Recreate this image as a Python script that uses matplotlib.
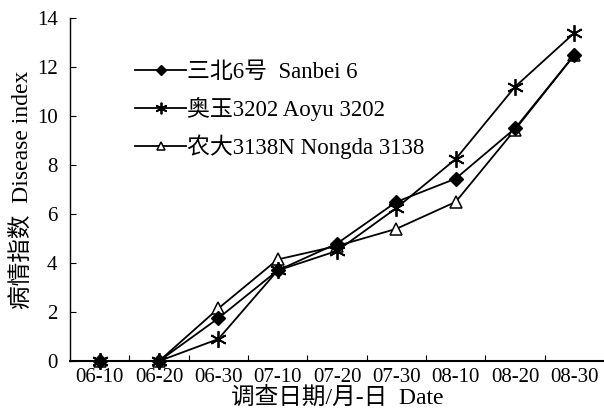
import matplotlib
matplotlib.use("Agg")
import matplotlib.pyplot as plt
import numpy as np

plt.rcParams['font.family'] = ['Liberation Serif', 'Noto Sans CJK SC']

dates = ['06-10', '06-20', '06-30', '07-10', '07-20', '07-30', '08-10', '08-20', '08-30']
sanbei = [0, 0, 1.75, 3.7, 4.8, 6.5, 7.45, 9.5, 12.5]
aoyu = [0, 0, 0.9, 3.7, 4.5, 6.25, 8.25, 11.2, 13.4]
nongda = [0, 0, 2.15, 4.15, 4.7, 5.4, 6.5, 9.45, 12.5]

names = ['三北6号  Sanbei 6', '奥玉3202 Aoyu 3202', '农大3138N Nongda 3138']

fig = plt.figure(figsize=(6.04, 4.15), dpi=100)
ax = fig.add_axes([0.116, 0.130, 0.884, 0.826])

x = np.arange(len(dates))
ax.plot(x, sanbei, color='black', lw=1.3, marker='D', ms=7, mfc='black',
        label=names[0], zorder=5, clip_on=False)
ax.plot(x, aoyu, color='black', lw=1.3, marker=(6, 2, 0), ms=12, mew=1.3,
        label=names[1], zorder=4, clip_on=False)
ax.plot(x, nongda, color='black', lw=1.3, marker='^', ms=8, mfc='white', mew=1.1,
        label=names[2], zorder=3, clip_on=False)

ax.set_xlim(-0.5, len(dates) - 0.5)
ax.set_ylim(0, 14)
ax.set_yticks(range(0, 15, 2))
ax.set_xticks(x)
ax.set_xticklabels(dates)
ax.set_xticks(np.arange(0.5, len(dates) - 0.5), minor=True)
ax.tick_params(axis='x', which='major', length=0, labelsize=15, pad=5)
ax.tick_params(axis='x', which='minor', direction='in', length=4, width=0.8)
ax.tick_params(axis='y', direction='in', length=4, width=0.8, labelsize=15, pad=9)

for s in ['top', 'right']:
    ax.spines[s].set_visible(False)
ax.spines['left'].set_linewidth(1.0)
ax.spines['bottom'].set_linewidth(1.5)

ax.set_ylabel('病情指数  Disease index', fontsize=17, labelpad=3)
ax.set_xlabel('调查日期/月-日  Date', fontsize=17, labelpad=0)

ax.legend(loc='upper left', bbox_to_anchor=(0.105, 0.9), frameon=False, fontsize=16.5,
          handlelength=2.2, handletextpad=0.05, labelspacing=0.6, borderaxespad=0,
          markerscale=0.7)

fig.savefig('out.png', dpi=100)
